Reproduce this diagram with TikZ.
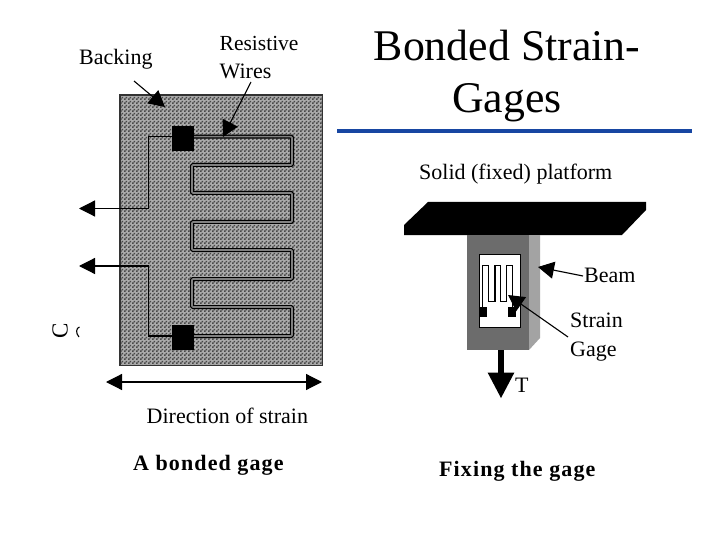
\documentclass[tikz,border=0pt]{standalone}
\usepackage{fontspec}
\setmainfont{Liberation Serif}
\usetikzlibrary{arrows.meta,patterns}
\definecolor{rulecol}{HTML}{1746A2}
\definecolor{backcol}{HTML}{808080}
\definecolor{backlight}{HTML}{ABABAB}
\definecolor{backdark}{HTML}{484848}
\definecolor{beamfront}{HTML}{6C6C6C}
\definecolor{beamside}{HTML}{A3A3A3}
\pgfdeclarepatternformonly{gridcheck}{\pgfqpoint{0pt}{0pt}}{\pgfqpoint{4pt}{4pt}}{\pgfqpoint{4pt}{4pt}}{%
  \pgfpathrectangle{\pgfqpoint{0pt}{0pt}}{\pgfqpoint{2pt}{2pt}}%
  \pgfpathrectangle{\pgfqpoint{2pt}{2pt}}{\pgfqpoint{2pt}{2pt}}%
  \pgfusepath{fill}}
\tikzset{
  lab/.style={anchor=west,inner sep=0pt,font=\fontsize{#1}{#1}\selectfont},
  boldlab/.style={anchor=west,inner sep=0pt,font=\fontsize{#1}{#1}\selectfont\bfseries},
  titlelab/.style={anchor=base,inner sep=0pt,font=\fontsize{43.8}{44}\selectfont},
  wire/.style={draw=black,line width=1.2pt,double=backcol,double distance=1.6pt,rounded corners=1pt},
  gagewire/.style={draw=black,line width=1.4pt},
  pad/.style={fill=black,draw=none,inner sep=0pt},
  callout/.style={draw=black,line width=1.1pt,-{Triangle[length=16pt,width=17pt]}},
  leadarrow/.style={draw=black,line width=1.2pt,-{Triangle[length=16pt,width=16pt]}},
}
\begin{document}
\begin{tikzpicture}[x=1pt,y=-1pt]
\useasboundingbox (0,0) rectangle (720,540);
% title
\node[titlelab] (title1) at (507,61) {Bonded Strain-};
\node[titlelab] (title2) at (507,113) {Gages};
\draw[rulecol,line width=4pt] (337,131) -- (692,131);
% backing
\node[fill=backlight,minimum width=202pt,minimum height=270pt,inner sep=0pt,anchor=north west] (backing) at (120,95) {};
\fill[pattern=gridcheck,pattern color=backdark] (backing.north west) rectangle (backing.south east);
\draw[black!80,line width=1.4pt] (backing.north west) rectangle (backing.south east);
% wires
\draw[wire] (190,136.7) -- (292,136.7) -- (292,165) -- (192,165) -- (192,193) -- (292,193) -- (292,222) -- (192,222) -- (192,250) -- (292,250) -- (292,279) -- (192,279) -- (192,307) -- (292,307) -- (292,336) -- (190,336);
\node[pad,minimum width=22pt,minimum height=25pt] (padA) at (183,138.5) {};
\node[pad,minimum width=22pt,minimum height=25pt] (padB) at (183,337.5) {};
\coordinate (leadAout) at (79,208.5);
\coordinate (leadBout) at (79,266);
\draw[leadarrow] (padA.west |- 0,136.7) -- (148.5,136.7) -- (148.5,208.5) -- (leadAout);
\draw[leadarrow] (padB.west |- 0,336) -- (148.5,336) -- (148.5,266) -- (leadBout);
% left labels
\node[lab=22] (backlab) at (79,59) {Backing};
\node[lab=21.5] (reslab) at (219.5,43) {Resistive};
\node[lab=22] (wirelab) at (219.5,71.5) {Wires};
\coordinate (backtail) at (134,81);
\coordinate (backtip) at (165,107);
\coordinate (restail) at (251,82);
\coordinate (restip) at (223,137);
\draw[callout] (backtail) -- (backtip);
\draw[callout] (restail) -- (restip);
% direction
\coordinate (dirL) at (106,382);
\coordinate (dirR) at (322,382);
\draw[draw=black,line width=1.2pt,{Triangle[length=16pt,width=16pt]}-{Triangle[length=16pt,width=16pt]}] (dirL) -- (dirR);
\node[lab=22] (dirlab) at (146.5,415.5) {Direction of strain};
% stray rotated letter
\node[rotate=90,inner sep=0pt,font=\fontsize{23}{23}\selectfont] (strayC) at (60,331) {C};
\draw[line width=1.1pt] (79.5,327) .. controls (76,328) and (75.5,333) .. (79,337);
% captions
\node[boldlab=22] (cap1) at (133,465) {\addfontfeature{LetterSpace=5}A bonded gage};
\node[boldlab=22] (cap2) at (439,471) {\addfontfeature{LetterSpace=5}Fixing the gage};
% platform
\node[lab=22] (solid) at (419,174.5) {Solid (fixed) platform};
\fill[black] (428,202) -- (646,202) -- (646,210) -- (622,235) -- (404,235) -- (404,225) -- cycle;
\fill[beamside] (529,235) -- (540,235) -- (540,338) -- (529,350) -- cycle;
\node[fill=beamfront,minimum width=62pt,minimum height=115pt,inner sep=0pt,anchor=north west] (beam) at (467,235) {};
\node[fill=white,draw=black,line width=1pt,minimum width=41pt,minimum height=73pt,inner sep=0pt,anchor=north west] (gage) at (478.5,253.5) {};
\draw[gagewire] (482.7,308) -- (482.7,265.5) -- (488.3,265.5) -- (488.3,301.7) -- (495,301.7) -- (495,265.5) -- (500.7,265.5) -- (500.7,301.7) -- (506.7,301.7) -- (506.7,265.5) -- (512.3,265.5) -- (512.3,308);
\node[pad,minimum width=8.3pt,minimum height=10pt,anchor=north west] (gpadA) at (478.5,306.7) {};
\node[pad,minimum width=8.3pt,minimum height=10pt,anchor=north west] (gpadB) at (507.8,306.7) {};
% beam labels
\node[lab=22] (beamlab) at (584,275) {Beam};
\node[lab=22] (strainlab) at (570,320.5) {Strain};
\node[lab=22] (gagelab) at (570,352) {Gage};
\node[lab=22] (tlab) at (515,385) {T};
\coordinate (beamtail) at (583,276);
\coordinate (beamtip) at (538,267);
\coordinate (straintail) at (568,337);
\coordinate (straintip) at (508,295);
\draw[callout] (beamtail) -- (beamtip);
\draw[callout] (straintail) -- (straintip);
\coordinate (ttip) at (501,398.5);
\draw[draw=black,line width=6pt,-{Triangle[length=26pt,width=25pt]}] (501,350) -- (ttip);
\end{tikzpicture}
\end{document}
